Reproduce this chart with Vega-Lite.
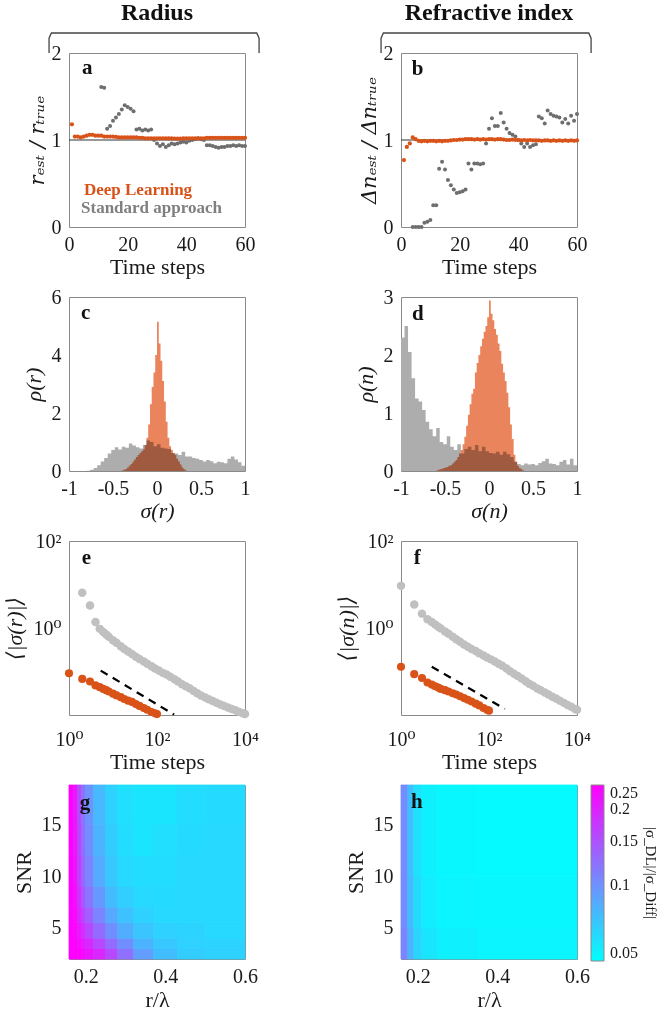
{
"$schema": "https://vega.github.io/schema/vega-lite/v6.json",
"background": "white",
"padding": {"left": 3, "top": 0, "right": 5, "bottom": 5},
"columns": 2,
"spacing": {"row": 70, "column": 156},
"bounds": "flush",
"resolve": {"scale": {"color": "independent"}, "legend": {"color": "independent"}},
"config": {
  "font": "Liberation Serif",
  "view": {"stroke": "#8a8a8a", "strokeWidth": 1},
  "axis": {"labelFont": "Liberation Serif, DejaVu Serif", "titleFont": "Liberation Serif, DejaVu Serif", "labelFontSize": 20, "titleFontSize": 22, "titleFontWeight": "normal", "labelColor": "#1a1a1a", "titleColor": "#1a1a1a", "grid": false, "ticks": false, "domain": false, "labelPadding": 8, "labelFlush": false, "labelOverlap": false},
  "axisY": {"titlePadding": 6},
  "axisX": {"titlePadding": 2, "labelPadding": 7},
  "text": {"font": "Liberation Serif"}
},
"concat": [
{
  "width": 176, "height": 174,
  "encoding": {
    "x": {"field": "x", "type": "quantitative", "scale": {"domain": [0, 60]}, "axis": {"values": [0, 20, 40, 60], "title": "Time steps"}},
    "y": {"field": "y", "type": "quantitative", "scale": {"domain": [0, 2]}, "axis": {"values": [0, 1, 2], "format": "~g", "title": "rₑₛₜ / rₜᵣᵤₑ", "titleFont": "DejaVu Serif", "titleFontSize": 21, "titleFontStyle": "italic", "titlePadding": 4}}
  },
  "layer": [
    {"data": {"values": [{"x": 0, "y": 1}, {"x": 60, "y": 1}]}, "mark": {"type": "line", "color": "#333333", "strokeWidth": 1.2}},
    {"data": {"values": [
      {"x":11,"y":1.61},{"x":12,"y":1.60},{"x":13,"y":1.13},{"x":14,"y":1.16},{"x":15,"y":1.22},{"x":16,"y":1.26},{"x":17,"y":1.30},{"x":18,"y":1.35},{"x":19,"y":1.40},{"x":20,"y":1.38},{"x":21,"y":1.36},{"x":22,"y":1.33},{"x":23,"y":1.12},{"x":24,"y":1.13},{"x":25,"y":1.11},{"x":26,"y":1.12},{"x":27,"y":1.11},{"x":28,"y":1.12},{"x":29,"y":1.0},{"x":30,"y":0.96},{"x":31,"y":0.93},{"x":32,"y":0.95},{"x":33,"y":0.92},{"x":34,"y":0.94},{"x":35,"y":0.96},{"x":36,"y":0.95},{"x":37,"y":0.96},{"x":38,"y":0.97},{"x":39,"y":0.98},{"x":40,"y":0.97},{"x":41,"y":0.99},{"x":42,"y":1.0},{"x":43,"y":1.01},{"x":44,"y":1.02},{"x":45,"y":1.01},{"x":46,"y":1.0},{"x":47,"y":0.94},{"x":48,"y":0.94},{"x":49,"y":0.93},{"x":50,"y":0.92},{"x":51,"y":0.91},{"x":52,"y":0.92},{"x":53,"y":0.92},{"x":54,"y":0.93},{"x":55,"y":0.93},{"x":56,"y":0.94},{"x":57,"y":0.93},{"x":58,"y":0.94},{"x":59,"y":0.93},{"x":60,"y":0.93}
    ]}, "mark": {"type": "circle", "color": "#6e6e6e", "size": 16, "opacity": 1}},
    {"data": {"values": [
      {"x":1,"y":1.18},{"x":2,"y":1.04},{"x":3,"y":1.04},{"x":4,"y":1.03},{"x":5,"y":1.04},{"x":6,"y":1.05},{"x":7,"y":1.06},{"x":8,"y":1.06},{"x":9,"y":1.05},{"x":10,"y":1.05},{"x":11,"y":1.05},{"x":12,"y":1.04},{"x":13,"y":1.04},{"x":14,"y":1.04},{"x":15,"y":1.04},{"x":16,"y":1.035},{"x":17,"y":1.03},{"x":18,"y":1.03},{"x":19,"y":1.03},{"x":20,"y":1.03},{"x":21,"y":1.03},{"x":22,"y":1.03},{"x":23,"y":1.03},{"x":24,"y":1.025},{"x":25,"y":1.025},{"x":26,"y":1.02},{"x":27,"y":1.02},{"x":28,"y":1.02},{"x":29,"y":1.02},{"x":30,"y":1.02},{"x":31,"y":1.02},{"x":32,"y":1.02},{"x":33,"y":1.02},{"x":34,"y":1.02},{"x":35,"y":1.02},{"x":36,"y":1.015},{"x":37,"y":1.015},{"x":38,"y":1.015},{"x":39,"y":1.02},{"x":40,"y":1.02},{"x":41,"y":1.02},{"x":42,"y":1.02},{"x":43,"y":1.02},{"x":44,"y":1.02},{"x":45,"y":1.02},{"x":46,"y":1.02},{"x":47,"y":1.025},{"x":48,"y":1.025},{"x":49,"y":1.025},{"x":50,"y":1.025},{"x":51,"y":1.025},{"x":52,"y":1.025},{"x":53,"y":1.025},{"x":54,"y":1.025},{"x":55,"y":1.025},{"x":56,"y":1.025},{"x":57,"y":1.025},{"x":58,"y":1.025},{"x":59,"y":1.025},{"x":60,"y":1.025}
    ]}, "mark": {"type": "circle", "color": "#D95319", "size": 18, "opacity": 1}},
    {"data": {"values": [{"x":-6.8,"y":2.0,"i":1},{"x":-6.8,"y":2.17,"i":2},{"x":-6.0,"y":2.23,"i":3},{"x":64.0,"y":2.23,"i":4},{"x":64.8,"y":2.17,"i":5},{"x":64.8,"y":2.0,"i":6}]}, "mark": {"type": "line", "color": "#444444", "strokeWidth": 1.3}, "encoding": {"order": {"field": "i", "type": "quantitative"}}},
    {"data": {"values": [{"x": 30, "y": 2.38, "label": "Radius"}]}, "mark": {"type": "text", "fontSize": 24, "fontWeight": "bold", "baseline": "alphabetic", "color": "#111111"}, "encoding": {"text": {"field": "label"}}},
    {"data": {"values": [{"x": 4.4, "y": 1.76, "label": "a"}]}, "mark": {"type": "text", "fontSize": 21, "fontWeight": "bold", "align": "left", "baseline": "alphabetic", "color": "#111111"}, "encoding": {"text": {"field": "label"}}},
    {"data": {"values": [{"x": 5.1, "y": 0.37, "label": "Deep Learning"}]}, "mark": {"type": "text", "fontSize": 17, "fontWeight": "bold", "align": "left", "baseline": "alphabetic", "color": "#D95319"}, "encoding": {"text": {"field": "label"}}},
    {"data": {"values": [{"x": 4.1, "y": 0.16, "label": "Standard approach"}]}, "mark": {"type": "text", "fontSize": 17, "fontWeight": "bold", "align": "left", "baseline": "alphabetic", "color": "#7f7f7f"}, "encoding": {"text": {"field": "label"}}}
  ]
},
{
  "width": 176, "height": 174,
  "encoding": {
    "x": {"field": "x", "type": "quantitative", "scale": {"domain": [0, 60]}, "axis": {"values": [0, 20, 40, 60], "title": "Time steps"}},
    "y": {"field": "y", "type": "quantitative", "scale": {"domain": [0, 2]}, "axis": {"values": [0, 1, 2], "format": "~g", "title": "Δnₑₛₜ / Δnₜᵣᵤₑ", "titleFont": "DejaVu Serif", "titleFontSize": 21, "titleFontStyle": "italic", "titlePadding": 4}}
  },
  "layer": [
    {"data": {"values": [{"x": 0, "y": 1}, {"x": 60, "y": 1}]}, "mark": {"type": "line", "color": "#333333", "strokeWidth": 1.2}},
    {"data": {"values": [
      {"x":4,"y":0.0},{"x":5,"y":0.0},{"x":6,"y":0.0},{"x":7,"y":0.0},{"x":8,"y":0.05},{"x":9,"y":0.06},{"x":10,"y":0.08},{"x":11,"y":0.25},{"x":12,"y":0.25},{"x":13,"y":0.67},{"x":14,"y":0.75},{"x":15,"y":0.66},{"x":16,"y":0.54},{"x":17,"y":0.48},{"x":18,"y":0.43},{"x":19,"y":0.39},{"x":20,"y":0.40},{"x":21,"y":0.41},{"x":22,"y":0.43},{"x":23,"y":0.73},{"x":24,"y":0.66},{"x":25,"y":0.73},{"x":26,"y":0.73},{"x":27,"y":0.72},{"x":28,"y":0.73},{"x":29,"y":0.96},{"x":30,"y":1.13},{"x":31,"y":1.25},{"x":32,"y":1.16},{"x":33,"y":1.16},{"x":34,"y":1.31},{"x":35,"y":1.2},{"x":36,"y":1.13},{"x":37,"y":1.08},{"x":38,"y":1.06},{"x":39,"y":1.04},{"x":40,"y":1.0},{"x":41,"y":0.96},{"x":42,"y":0.92},{"x":43,"y":0.96},{"x":44,"y":0.92},{"x":45,"y":0.94},{"x":46,"y":0.95},{"x":47,"y":1.27},{"x":48,"y":1.25},{"x":49,"y":1.19},{"x":50,"y":1.34},{"x":51,"y":1.30},{"x":52,"y":1.28},{"x":53,"y":1.27},{"x":54,"y":1.26},{"x":55,"y":1.2},{"x":56,"y":1.24},{"x":57,"y":1.19},{"x":58,"y":1.28},{"x":59,"y":1.22},{"x":60,"y":1.30}
    ]}, "mark": {"type": "circle", "color": "#6e6e6e", "size": 16, "opacity": 1}},
    {"data": {"values": [
      {"x":1,"y":0.77},{"x":2,"y":0.92},{"x":3,"y":0.96},{"x":4,"y":1.03},{"x":5,"y":1.01},{"x":6,"y":0.99},{"x":7,"y":0.985},{"x":8,"y":0.99},{"x":9,"y":0.985},{"x":10,"y":0.99},{"x":11,"y":0.99},{"x":12,"y":0.985},{"x":13,"y":0.99},{"x":14,"y":0.985},{"x":15,"y":0.99},{"x":16,"y":0.99},{"x":17,"y":0.995},{"x":18,"y":1.0},{"x":19,"y":1.0},{"x":20,"y":1.005},{"x":21,"y":1.005},{"x":22,"y":1.01},{"x":23,"y":1.01},{"x":24,"y":1.01},{"x":25,"y":1.005},{"x":26,"y":1.01},{"x":27,"y":1.005},{"x":28,"y":1.01},{"x":29,"y":1.005},{"x":30,"y":1.01},{"x":31,"y":1.01},{"x":32,"y":1.005},{"x":33,"y":1.01},{"x":34,"y":1.01},{"x":35,"y":1.005},{"x":36,"y":1.0},{"x":37,"y":1.0},{"x":38,"y":1.005},{"x":39,"y":1.0},{"x":40,"y":1.0},{"x":41,"y":0.995},{"x":42,"y":1.0},{"x":43,"y":0.995},{"x":44,"y":1.0},{"x":45,"y":0.995},{"x":46,"y":0.995},{"x":47,"y":0.995},{"x":48,"y":0.99},{"x":49,"y":0.995},{"x":50,"y":0.995},{"x":51,"y":0.99},{"x":52,"y":0.995},{"x":53,"y":0.99},{"x":54,"y":0.995},{"x":55,"y":0.99},{"x":56,"y":0.995},{"x":57,"y":0.99},{"x":58,"y":0.995},{"x":59,"y":0.99},{"x":60,"y":0.995}
    ]}, "mark": {"type": "circle", "color": "#D95319", "size": 18, "opacity": 1}},
    {"data": {"values": [{"x":-6.8,"y":2.0,"i":1},{"x":-6.8,"y":2.17,"i":2},{"x":-6.0,"y":2.23,"i":3},{"x":64.0,"y":2.23,"i":4},{"x":64.8,"y":2.17,"i":5},{"x":64.8,"y":2.0,"i":6}]}, "mark": {"type": "line", "color": "#444444", "strokeWidth": 1.3}, "encoding": {"order": {"field": "i", "type": "quantitative"}}},
    {"data": {"values": [{"x": 30, "y": 2.38, "label": "Refractive index"}]}, "mark": {"type": "text", "fontSize": 24, "fontWeight": "bold", "baseline": "alphabetic", "color": "#111111"}, "encoding": {"text": {"field": "label"}}},
    {"data": {"values": [{"x": 3.7, "y": 1.75, "label": "b"}]}, "mark": {"type": "text", "fontSize": 21, "fontWeight": "bold", "align": "left", "baseline": "alphabetic", "color": "#111111"}, "encoding": {"text": {"field": "label"}}}
  ]
},
{
  "width": 176, "height": 174,
  "encoding": {
    "x": {"field": "s", "type": "quantitative", "scale": {"domain": [-1, 1]}, "axis": {"values": [-1, -0.5, 0, 0.5, 1], "format": "~g", "title": "σ(r)", "titleFontStyle": "italic", "labelExpr": "replace(datum.label, '−', '-')"}},
    "y": {"field": "v", "type": "quantitative", "scale": {"domain": [0, 6]}, "axis": {"values": [0, 2, 4, 6], "format": "~g", "title": "ρ(r)", "titleFontStyle": "italic"}}
  },
  "layer": [
    {"data": {"values": [
      {"s":-0.80,"v":0.01},{"s":-0.76,"v":0.04},{"s":-0.72,"v":0.10},{"s":-0.68,"v":0.2},{"s":-0.64,"v":0.33},{"s":-0.60,"v":0.45},{"s":-0.56,"v":0.6},{"s":-0.52,"v":0.72},{"s":-0.48,"v":0.82},{"s":-0.44,"v":0.74},{"s":-0.40,"v":0.84},{"s":-0.36,"v":0.8},{"s":-0.32,"v":0.95},{"s":-0.28,"v":0.88},{"s":-0.24,"v":0.82},{"s":-0.20,"v":0.78},{"s":-0.16,"v":0.9},{"s":-0.12,"v":1.05},{"s":-0.08,"v":1.0},{"s":-0.04,"v":0.85},{"s":0.0,"v":0.92},{"s":0.04,"v":0.8},{"s":0.08,"v":0.78},{"s":0.12,"v":0.76},{"s":0.16,"v":0.62},{"s":0.20,"v":0.6},{"s":0.24,"v":0.55},{"s":0.28,"v":0.66},{"s":0.32,"v":0.5},{"s":0.36,"v":0.5},{"s":0.40,"v":0.45},{"s":0.44,"v":0.42},{"s":0.48,"v":0.38},{"s":0.52,"v":0.33},{"s":0.56,"v":0.38},{"s":0.60,"v":0.34},{"s":0.64,"v":0.27},{"s":0.68,"v":0.32},{"s":0.72,"v":0.3},{"s":0.76,"v":0.27},{"s":0.80,"v":0.42},{"s":0.84,"v":0.5},{"s":0.88,"v":0.4},{"s":0.92,"v":0.3},{"s":0.96,"v":0.18},{"s":1.0,"v":0.18}
    ]}, "mark": {"type": "area", "interpolate": "step-after", "color": "#adadad", "opacity": 1}},
    {"data": {"values": [
      {"s":-0.40,"v":0.02},{"s":-0.38,"v":0.04},{"s":-0.36,"v":0.07},{"s":-0.34,"v":0.12},{"s":-0.32,"v":0.18},{"s":-0.30,"v":0.24},{"s":-0.28,"v":0.32},{"s":-0.26,"v":0.40},{"s":-0.24,"v":0.48},{"s":-0.22,"v":0.55},{"s":-0.20,"v":0.62},{"s":-0.18,"v":0.68},{"s":-0.16,"v":0.74},{"s":-0.14,"v":0.90},{"s":-0.12,"v":1.15},{"s":-0.10,"v":1.6},{"s":-0.08,"v":2.3},{"s":-0.06,"v":2.9},{"s":-0.04,"v":3.4},{"s":-0.02,"v":4.0},{"s":0.0,"v":5.15},{"s":0.02,"v":4.4},{"s":0.04,"v":3.8},{"s":0.06,"v":3.1},{"s":0.08,"v":2.4},{"s":0.10,"v":1.7},{"s":0.12,"v":1.15},{"s":0.14,"v":0.85},{"s":0.16,"v":0.72},{"s":0.18,"v":0.62},{"s":0.20,"v":0.55},{"s":0.22,"v":0.42},{"s":0.24,"v":0.33},{"s":0.26,"v":0.22},{"s":0.28,"v":0.12},{"s":0.30,"v":0.06},{"s":0.32,"v":0.02},{"s":0.34,"v":0.02}
    ]}, "mark": {"type": "area", "interpolate": "step-after", "color": "#EA845C", "opacity": 1, "blend": "multiply"}},
    {"data": {"values": [{"s": -0.864, "v": 5.24, "label": "c"}]}, "mark": {"type": "text", "fontSize": 21, "fontWeight": "bold", "align": "left", "baseline": "alphabetic", "color": "#111111"}, "encoding": {"text": {"field": "label"}}}
  ]
},
{
  "width": 176, "height": 174,
  "encoding": {
    "x": {"field": "s", "type": "quantitative", "scale": {"domain": [-1, 1]}, "axis": {"values": [-1, -0.5, 0, 0.5, 1], "format": "~g", "title": "σ(n)", "titleFontStyle": "italic", "labelExpr": "replace(datum.label, '−', '-')"}},
    "y": {"field": "v", "type": "quantitative", "scale": {"domain": [0, 3]}, "axis": {"values": [0, 1, 2, 3], "format": "~g", "title": "ρ(n)", "titleFontStyle": "italic"}}
  },
  "layer": [
    {"data": {"values": [
      {"s":-1.00,"v":2.3},{"s":-0.96,"v":2.5},{"s":-0.92,"v":2.05},{"s":-0.88,"v":1.6},{"s":-0.84,"v":1.25},{"s":-0.80,"v":1.2},{"s":-0.76,"v":1.05},{"s":-0.72,"v":0.85},{"s":-0.68,"v":0.72},{"s":-0.64,"v":0.6},{"s":-0.60,"v":0.74},{"s":-0.56,"v":0.5},{"s":-0.52,"v":0.46},{"s":-0.48,"v":0.6},{"s":-0.44,"v":0.42},{"s":-0.40,"v":0.36},{"s":-0.36,"v":0.46},{"s":-0.32,"v":0.30},{"s":-0.28,"v":0.38},{"s":-0.24,"v":0.42},{"s":-0.20,"v":0.36},{"s":-0.16,"v":0.45},{"s":-0.12,"v":0.34},{"s":-0.08,"v":0.42},{"s":-0.04,"v":0.34},{"s":0.0,"v":0.31},{"s":0.04,"v":0.30},{"s":0.08,"v":0.33},{"s":0.12,"v":0.28},{"s":0.16,"v":0.33},{"s":0.20,"v":0.29},{"s":0.24,"v":0.24},{"s":0.28,"v":0.16},{"s":0.32,"v":0.12},{"s":0.36,"v":0.1},{"s":0.40,"v":0.13},{"s":0.44,"v":0.11},{"s":0.48,"v":0.12},{"s":0.52,"v":0.1},{"s":0.56,"v":0.14},{"s":0.60,"v":0.17},{"s":0.64,"v":0.21},{"s":0.68,"v":0.13},{"s":0.72,"v":0.12},{"s":0.76,"v":0.10},{"s":0.80,"v":0.16},{"s":0.84,"v":0.19},{"s":0.88,"v":0.11},{"s":0.92,"v":0.21},{"s":0.96,"v":0.10},{"s":1.0,"v":0.10}
    ]}, "mark": {"type": "area", "interpolate": "step-after", "color": "#adadad", "opacity": 1}},
    {"data": {"values": [
      {"s":-0.60,"v":0.01},{"s":-0.58,"v":0.02},{"s":-0.56,"v":0.03},{"s":-0.54,"v":0.04},{"s":-0.52,"v":0.05},{"s":-0.50,"v":0.06},{"s":-0.48,"v":0.07},{"s":-0.46,"v":0.09},{"s":-0.44,"v":0.1},{"s":-0.42,"v":0.13},{"s":-0.40,"v":0.16},{"s":-0.38,"v":0.19},{"s":-0.36,"v":0.24},{"s":-0.34,"v":0.3},{"s":-0.32,"v":0.36},{"s":-0.30,"v":0.46},{"s":-0.28,"v":0.59},{"s":-0.26,"v":0.78},{"s":-0.24,"v":0.97},{"s":-0.22,"v":1.15},{"s":-0.20,"v":1.33},{"s":-0.18,"v":1.42},{"s":-0.16,"v":1.7},{"s":-0.14,"v":1.86},{"s":-0.12,"v":2.0},{"s":-0.10,"v":2.15},{"s":-0.08,"v":2.28},{"s":-0.06,"v":2.4},{"s":-0.04,"v":2.5},{"s":-0.02,"v":2.65},{"s":0.0,"v":2.94},{"s":0.02,"v":2.71},{"s":0.04,"v":2.6},{"s":0.06,"v":2.45},{"s":0.08,"v":2.35},{"s":0.10,"v":2.2},{"s":0.12,"v":2.07},{"s":0.14,"v":1.85},{"s":0.16,"v":1.7},{"s":0.18,"v":1.55},{"s":0.20,"v":1.35},{"s":0.22,"v":1.1},{"s":0.24,"v":0.8},{"s":0.26,"v":0.55},{"s":0.28,"v":0.28},{"s":0.30,"v":0.16},{"s":0.32,"v":0.09},{"s":0.34,"v":0.05},{"s":0.36,"v":0.03},{"s":0.38,"v":0.01},{"s":0.40,"v":0.01}
    ]}, "mark": {"type": "area", "interpolate": "step-after", "color": "#EA845C", "opacity": 1, "blend": "multiply"}},
    {"data": {"values": [{"s": -0.876, "v": 2.61, "label": "d"}]}, "mark": {"type": "text", "fontSize": 21, "fontWeight": "bold", "align": "left", "baseline": "alphabetic", "color": "#111111"}, "encoding": {"text": {"field": "label"}}}
  ]
},
{
  "width": 176, "height": 174,
  "encoding": {
    "x": {"field": "x", "type": "quantitative", "scale": {"type": "log", "domain": [1, 10000]}, "axis": {"values": [1, 100, 10000], "title": "Time steps", "labelPadding": 14, "titlePadding": 2, "labelExpr": "datum.value == 1 ? '10⁰' : datum.value == 100 ? '10²' : '10⁴'"}},
    "y": {"field": "y", "type": "quantitative", "scale": {"type": "log", "domain": [0.01, 100]}, "axis": {"values": [1, 100], "title": "⟨|σ(r)|⟩", "titleFontStyle": "italic", "labelExpr": "datum.value == 1 ? '10⁰' : '10²'"}}
  },
  "layer": [
    {"data": {"values": [
      {"x":2,"y":6.5},{"x":3,"y":3.3},{"x":4,"y":1.37},{"x":5,"y":0.955},{"x":6,"y":0.81},{"x":7,"y":0.71},{"x":8,"y":0.63},{"x":10,"y":0.525},{"x":12,"y":0.457},{"x":15,"y":0.38},{"x":18,"y":0.331},{"x":22,"y":0.288},{"x":27,"y":0.251},{"x":33,"y":0.219},{"x":40,"y":0.195},{"x":50,"y":0.17},{"x":60,"y":0.151},{"x":75,"y":0.132},{"x":90,"y":0.117},{"x":110,"y":0.105},{"x":135,"y":0.093},{"x":165,"y":0.085},{"x":200,"y":0.076},{"x":250,"y":0.066},{"x":300,"y":0.059},{"x":370,"y":0.051},{"x":450,"y":0.046},{"x":550,"y":0.041},{"x":680,"y":0.0355},{"x":820,"y":0.0316},{"x":1000,"y":0.0282},{"x":1250,"y":0.0251},{"x":1500,"y":0.0229},{"x":1850,"y":0.0209},{"x":2250,"y":0.0191},{"x":2750,"y":0.0174},{"x":3350,"y":0.0162},{"x":4100,"y":0.0148},{"x":5000,"y":0.0138},{"x":6100,"y":0.0129},{"x":7400,"y":0.0117},{"x":9000,"y":0.011},{"x":10000,"y":0.0105}
    ]}, "mark": {"type": "circle", "color": "#c0c0c0", "size": 72, "opacity": 1}},
    {"data": {"values": [
      {"x":1,"y":0.091},{"x":2,"y":0.0676},{"x":3,"y":0.0589},{"x":4,"y":0.0479},{"x":5,"y":0.0437},{"x":6,"y":0.0398},{"x":7,"y":0.0372},{"x":8,"y":0.0347},{"x":10,"y":0.0309},{"x":12,"y":0.0282},{"x":15,"y":0.0257},{"x":18,"y":0.0234},{"x":22,"y":0.0214},{"x":27,"y":0.02},{"x":33,"y":0.0178},{"x":40,"y":0.0162},{"x":50,"y":0.0145},{"x":60,"y":0.0132},{"x":75,"y":0.0117},{"x":90,"y":0.011},{"x":100,"y":0.0105}
    ]}, "mark": {"type": "circle", "color": "#D95319", "size": 66, "opacity": 1}},
    {"data": {"values": [{"x": 5.25, "y": 0.105}, {"x": 245, "y": 0.0102}]}, "mark": {"type": "line", "color": "#000000", "strokeWidth": 2.2, "strokeDash": [8, 6]}},
    {"data": {"values": [{"x": 1.94, "y": 29.5, "label": "e"}]}, "mark": {"type": "text", "fontSize": 21, "fontWeight": "bold", "align": "left", "baseline": "alphabetic", "color": "#111111"}, "encoding": {"text": {"field": "label"}}}
  ]
},
{
  "width": 176, "height": 174,
  "encoding": {
    "x": {"field": "x", "type": "quantitative", "scale": {"type": "log", "domain": [1, 10000]}, "axis": {"values": [1, 100, 10000], "title": "Time steps", "labelPadding": 14, "titlePadding": 2, "labelExpr": "datum.value == 1 ? '10⁰' : datum.value == 100 ? '10²' : '10⁴'"}},
    "y": {"field": "y", "type": "quantitative", "scale": {"type": "log", "domain": [0.01, 100]}, "axis": {"values": [1, 100], "title": "⟨|σ(n)|⟩", "titleFontStyle": "italic", "labelExpr": "datum.value == 1 ? '10⁰' : '10²'"}}
  },
  "layer": [
    {"data": {"values": [
      {"x":1,"y":9.3},{"x":2,"y":3.47},{"x":3,"y":2.14},{"x":4,"y":1.58},{"x":5,"y":1.38},{"x":6,"y":1.2},{"x":7,"y":1.07},{"x":8,"y":0.98},{"x":10,"y":0.83},{"x":12,"y":0.74},{"x":15,"y":0.63},{"x":18,"y":0.55},{"x":22,"y":0.48},{"x":27,"y":0.417},{"x":33,"y":0.372},{"x":40,"y":0.331},{"x":50,"y":0.295},{"x":60,"y":0.263},{"x":75,"y":0.234},{"x":90,"y":0.209},{"x":110,"y":0.19},{"x":135,"y":0.17},{"x":165,"y":0.151},{"x":200,"y":0.135},{"x":250,"y":0.117},{"x":300,"y":0.102},{"x":370,"y":0.089},{"x":450,"y":0.079},{"x":550,"y":0.069},{"x":680,"y":0.06},{"x":820,"y":0.0525},{"x":1000,"y":0.0468},{"x":1250,"y":0.0407},{"x":1500,"y":0.0372},{"x":1850,"y":0.0331},{"x":2250,"y":0.0295},{"x":2750,"y":0.0263},{"x":3350,"y":0.024},{"x":4100,"y":0.0214},{"x":5000,"y":0.019},{"x":6100,"y":0.017},{"x":7400,"y":0.0155},{"x":9000,"y":0.0138},{"x":10000,"y":0.0132}
    ]}, "mark": {"type": "circle", "color": "#c0c0c0", "size": 72, "opacity": 1}},
    {"data": {"values": [
      {"x":1,"y":0.129},{"x":2,"y":0.087},{"x":3,"y":0.0708},{"x":4,"y":0.056},{"x":5,"y":0.05},{"x":6,"y":0.0457},{"x":7,"y":0.0427},{"x":8,"y":0.0398},{"x":10,"y":0.0372},{"x":12,"y":0.0347},{"x":15,"y":0.0316},{"x":18,"y":0.0295},{"x":22,"y":0.0269},{"x":27,"y":0.0245},{"x":33,"y":0.0224},{"x":40,"y":0.0204},{"x":50,"y":0.0182},{"x":60,"y":0.0166},{"x":75,"y":0.0145},{"x":90,"y":0.0132},{"x":100,"y":0.0126}
    ]}, "mark": {"type": "circle", "color": "#D95319", "size": 66, "opacity": 1}},
    {"data": {"values": [{"x": 5.0, "y": 0.129}, {"x": 229, "y": 0.0138}]}, "mark": {"type": "line", "color": "#000000", "strokeWidth": 2.2, "strokeDash": [8, 6]}},
    {"data": {"values": [{"x": 1.94, "y": 29.5, "label": "f"}]}, "mark": {"type": "text", "fontSize": 21, "fontWeight": "bold", "align": "left", "baseline": "alphabetic", "color": "#111111"}, "encoding": {"text": {"field": "label"}}}
  ]
},
{
  "width": 176, "height": 174,
  "encoding": {
    "x": {"field": "x0", "type": "quantitative", "scale": {"domain": [0.158, 0.6]}, "axis": {"values": [0.2, 0.4, 0.6], "title": "r/λ", "titlePadding": 3}},
    "y": {"field": "y0", "type": "quantitative", "scale": {"domain": [2, 18.8]}, "axis": {"values": [5, 10, 15], "title": "SNR"}}
  },
  "layer": [
    {"data": {"values": [
      {"x0":0.158,"x1":0.17,"y0":2,"y1":3,"v":0.25},{"x0":0.17,"x1":0.18,"y0":2,"y1":3,"v":0.25},{"x0":0.18,"x1":0.19,"y0":2,"y1":3,"v":0.25},{"x0":0.19,"x1":0.2,"y0":2,"y1":3,"v":0.234},{"x0":0.2,"x1":0.22,"y0":2,"y1":3,"v":0.22},{"x0":0.22,"x1":0.25,"y0":2,"y1":3,"v":0.196},{"x0":0.25,"x1":0.28,"y0":2,"y1":3,"v":0.159},{"x0":0.28,"x1":0.32,"y0":2,"y1":3,"v":0.123},{"x0":0.32,"x1":0.37,"y0":2,"y1":3,"v":0.092},{"x0":0.37,"x1":0.43,"y0":2,"y1":3,"v":0.076},{"x0":0.43,"x1":0.5,"y0":2,"y1":3,"v":0.069},{"x0":0.5,"x1":0.6,"y0":2,"y1":3,"v":0.067},
      {"x0":0.158,"x1":0.17,"y0":3,"y1":4,"v":0.25},{"x0":0.17,"x1":0.18,"y0":3,"y1":4,"v":0.25},{"x0":0.18,"x1":0.19,"y0":3,"y1":4,"v":0.231},{"x0":0.19,"x1":0.2,"y0":3,"y1":4,"v":0.213},{"x0":0.2,"x1":0.22,"y0":3,"y1":4,"v":0.193},{"x0":0.22,"x1":0.25,"y0":3,"y1":4,"v":0.159},{"x0":0.25,"x1":0.28,"y0":3,"y1":4,"v":0.127},{"x0":0.28,"x1":0.32,"y0":3,"y1":4,"v":0.102},{"x0":0.32,"x1":0.37,"y0":3,"y1":4,"v":0.081},{"x0":0.37,"x1":0.43,"y0":3,"y1":4,"v":0.071},{"x0":0.43,"x1":0.5,"y0":3,"y1":4,"v":0.067},{"x0":0.5,"x1":0.6,"y0":3,"y1":4,"v":0.066},
      {"x0":0.158,"x1":0.17,"y0":4,"y1":5.5,"v":0.25},{"x0":0.17,"x1":0.18,"y0":4,"y1":5.5,"v":0.242},{"x0":0.18,"x1":0.19,"y0":4,"y1":5.5,"v":0.213},{"x0":0.19,"x1":0.2,"y0":4,"y1":5.5,"v":0.187},{"x0":0.2,"x1":0.22,"y0":4,"y1":5.5,"v":0.159},{"x0":0.22,"x1":0.25,"y0":4,"y1":5.5,"v":0.127},{"x0":0.25,"x1":0.28,"y0":4,"y1":5.5,"v":0.102},{"x0":0.28,"x1":0.32,"y0":4,"y1":5.5,"v":0.084},{"x0":0.32,"x1":0.37,"y0":4,"y1":5.5,"v":0.072},{"x0":0.37,"x1":0.43,"y0":4,"y1":5.5,"v":0.067},{"x0":0.43,"x1":0.5,"y0":4,"y1":5.5,"v":0.066},{"x0":0.5,"x1":0.6,"y0":4,"y1":5.5,"v":0.064},
      {"x0":0.158,"x1":0.17,"y0":5.5,"y1":7,"v":0.25},{"x0":0.17,"x1":0.18,"y0":5.5,"y1":7,"v":0.234},{"x0":0.18,"x1":0.19,"y0":5.5,"y1":7,"v":0.196},{"x0":0.19,"x1":0.2,"y0":5.5,"y1":7,"v":0.164},{"x0":0.2,"x1":0.22,"y0":5.5,"y1":7,"v":0.136},{"x0":0.22,"x1":0.25,"y0":5.5,"y1":7,"v":0.108},{"x0":0.25,"x1":0.28,"y0":5.5,"y1":7,"v":0.086},{"x0":0.28,"x1":0.32,"y0":5.5,"y1":7,"v":0.074},{"x0":0.32,"x1":0.37,"y0":5.5,"y1":7,"v":0.067},{"x0":0.37,"x1":0.43,"y0":5.5,"y1":7,"v":0.064},{"x0":0.43,"x1":0.5,"y0":5.5,"y1":7,"v":0.064},{"x0":0.5,"x1":0.6,"y0":5.5,"y1":7,"v":0.064},
      {"x0":0.158,"x1":0.17,"y0":7,"y1":9,"v":0.25},{"x0":0.17,"x1":0.18,"y0":7,"y1":9,"v":0.227},{"x0":0.18,"x1":0.19,"y0":7,"y1":9,"v":0.181},{"x0":0.19,"x1":0.2,"y0":7,"y1":9,"v":0.145},{"x0":0.2,"x1":0.22,"y0":7,"y1":9,"v":0.119},{"x0":0.22,"x1":0.25,"y0":7,"y1":9,"v":0.095},{"x0":0.25,"x1":0.28,"y0":7,"y1":9,"v":0.077},{"x0":0.28,"x1":0.32,"y0":7,"y1":9,"v":0.068},{"x0":0.32,"x1":0.37,"y0":7,"y1":9,"v":0.064},{"x0":0.37,"x1":0.43,"y0":7,"y1":9,"v":0.063},{"x0":0.43,"x1":0.5,"y0":7,"y1":9,"v":0.064},{"x0":0.5,"x1":0.6,"y0":7,"y1":9,"v":0.064},
      {"x0":0.158,"x1":0.17,"y0":9,"y1":12,"v":0.25},{"x0":0.17,"x1":0.18,"y0":9,"y1":12,"v":0.22},{"x0":0.18,"x1":0.19,"y0":9,"y1":12,"v":0.167},{"x0":0.19,"x1":0.2,"y0":9,"y1":12,"v":0.131},{"x0":0.2,"x1":0.22,"y0":9,"y1":12,"v":0.108},{"x0":0.22,"x1":0.25,"y0":9,"y1":12,"v":0.085},{"x0":0.25,"x1":0.28,"y0":9,"y1":12,"v":0.071},{"x0":0.28,"x1":0.32,"y0":9,"y1":12,"v":0.064},{"x0":0.32,"x1":0.37,"y0":9,"y1":12,"v":0.062},{"x0":0.37,"x1":0.43,"y0":9,"y1":12,"v":0.062},{"x0":0.43,"x1":0.5,"y0":9,"y1":12,"v":0.064},{"x0":0.5,"x1":0.6,"y0":9,"y1":12,"v":0.064},
      {"x0":0.158,"x1":0.17,"y0":12,"y1":15,"v":0.25},{"x0":0.17,"x1":0.18,"y0":12,"y1":15,"v":0.213},{"x0":0.18,"x1":0.19,"y0":12,"y1":15,"v":0.159},{"x0":0.19,"x1":0.2,"y0":12,"y1":15,"v":0.125},{"x0":0.2,"x1":0.22,"y0":12,"y1":15,"v":0.102},{"x0":0.22,"x1":0.25,"y0":12,"y1":15,"v":0.081},{"x0":0.25,"x1":0.28,"y0":12,"y1":15,"v":0.069},{"x0":0.28,"x1":0.32,"y0":12,"y1":15,"v":0.062},{"x0":0.32,"x1":0.37,"y0":12,"y1":15,"v":0.059},{"x0":0.37,"x1":0.43,"y0":12,"y1":15,"v":0.061},{"x0":0.43,"x1":0.5,"y0":12,"y1":15,"v":0.063},{"x0":0.5,"x1":0.6,"y0":12,"y1":15,"v":0.064},
      {"x0":0.158,"x1":0.17,"y0":15,"y1":18.8,"v":0.25},{"x0":0.17,"x1":0.18,"y0":15,"y1":18.8,"v":0.213},{"x0":0.18,"x1":0.19,"y0":15,"y1":18.8,"v":0.154},{"x0":0.19,"x1":0.2,"y0":15,"y1":18.8,"v":0.121},{"x0":0.2,"x1":0.22,"y0":15,"y1":18.8,"v":0.098},{"x0":0.22,"x1":0.25,"y0":15,"y1":18.8,"v":0.078},{"x0":0.25,"x1":0.28,"y0":15,"y1":18.8,"v":0.067},{"x0":0.28,"x1":0.32,"y0":15,"y1":18.8,"v":0.061},{"x0":0.32,"x1":0.37,"y0":15,"y1":18.8,"v":0.059},{"x0":0.37,"x1":0.43,"y0":15,"y1":18.8,"v":0.059},{"x0":0.43,"x1":0.5,"y0":15,"y1":18.8,"v":0.062},{"x0":0.5,"x1":0.6,"y0":15,"y1":18.8,"v":0.063}
    ]}, "mark": {"type": "rect", "strokeWidth": 0.8},
     "encoding": {"x2": {"field": "x1"}, "y2": {"field": "y1"},
       "color": {"field": "v", "type": "quantitative", "scale": {"type": "log", "domain": [0.05, 0.25], "range": ["#00ffff", "#ff00ff"], "interpolate": "rgb"}, "legend": null},
       "stroke": {"field": "v", "type": "quantitative", "scale": {"type": "log", "domain": [0.05, 0.25], "range": ["#00ffff", "#ff00ff"], "interpolate": "rgb"}, "legend": null}}},
    {"data": {"values": [{"x0": 0.185, "y0": 16.5, "label": "g"}]}, "mark": {"type": "text", "fontSize": 21, "fontWeight": "bold", "align": "left", "baseline": "alphabetic", "color": "#111111"}, "encoding": {"text": {"field": "label"}}}
  ]
},
{
  "width": 176, "height": 174,
  "encoding": {
    "x": {"field": "x0", "type": "quantitative", "scale": {"domain": [0.158, 0.6]}, "axis": {"values": [0.2, 0.4, 0.6], "title": "r/λ", "titlePadding": 3}},
    "y": {"field": "y0", "type": "quantitative", "scale": {"domain": [2, 18.8]}, "axis": {"values": [5, 10, 15], "title": "SNR"}}
  },
  "layer": [
    {"data": {"values": [
      {"x0":0.158,"x1":0.175,"y0":2,"y1":5,"v":0.108},{"x0":0.175,"x1":0.19,"y0":2,"y1":5,"v":0.081},{"x0":0.19,"x1":0.21,"y0":2,"y1":5,"v":0.066},{"x0":0.21,"x1":0.25,"y0":2,"y1":5,"v":0.059},{"x0":0.25,"x1":0.35,"y0":2,"y1":5,"v":0.055},{"x0":0.35,"x1":0.6,"y0":2,"y1":5,"v":0.0534},
      {"x0":0.158,"x1":0.175,"y0":5,"y1":10,"v":0.103},{"x0":0.175,"x1":0.19,"y0":5,"y1":10,"v":0.077},{"x0":0.19,"x1":0.21,"y0":5,"y1":10,"v":0.063},{"x0":0.21,"x1":0.25,"y0":5,"y1":10,"v":0.056},{"x0":0.25,"x1":0.35,"y0":5,"y1":10,"v":0.0534},{"x0":0.35,"x1":0.6,"y0":5,"y1":10,"v":0.0525},
      {"x0":0.158,"x1":0.175,"y0":10,"y1":18.8,"v":0.103},{"x0":0.175,"x1":0.19,"y0":10,"y1":18.8,"v":0.075},{"x0":0.19,"x1":0.21,"y0":10,"y1":18.8,"v":0.061},{"x0":0.21,"x1":0.25,"y0":10,"y1":18.8,"v":0.055},{"x0":0.25,"x1":0.35,"y0":10,"y1":18.8,"v":0.0525},{"x0":0.35,"x1":0.6,"y0":10,"y1":18.8,"v":0.0516}
    ]}, "mark": {"type": "rect", "strokeWidth": 0.8},
     "encoding": {"x2": {"field": "x1"}, "y2": {"field": "y1"},
       "stroke": {"field": "v", "type": "quantitative", "scale": {"type": "log", "domain": [0.05, 0.25], "range": ["#00ffff", "#ff00ff"], "interpolate": "rgb"}, "legend": null},
       "color": {"field": "v", "type": "quantitative", "scale": {"type": "log", "domain": [0.05, 0.25], "range": ["#00ffff", "#ff00ff"], "interpolate": "rgb"},
         "legend": {"values": [0.05, 0.1, 0.15, 0.2, 0.25], "format": "~g", "title": "|σ_DL|/|σ_Diff|", "direction": "vertical", "orient": "right", "offset": 14, "gradientLength": 176, "gradientThickness": 13, "gradientStrokeColor": "#888888", "gradientStrokeWidth": 1, "titleOrient": "right", "titleAngle": 270, "titleAnchor": "middle", "titleFontSize": 15, "titleFontWeight": "normal", "titleFont": "Liberation Serif, DejaVu Serif", "titleColor": "#1a1a1a", "labelFont": "Liberation Serif", "labelFontSize": 16, "labelColor": "#1a1a1a", "labelOffset": 6, "labelOverlap": false}}}},
    {"data": {"values": [{"x0": 0.183, "y0": 16.6, "label": "h"}]}, "mark": {"type": "text", "fontSize": 21, "fontWeight": "bold", "align": "left", "baseline": "alphabetic", "color": "#111111"}, "encoding": {"text": {"field": "label"}}}
  ]
}
]
}
